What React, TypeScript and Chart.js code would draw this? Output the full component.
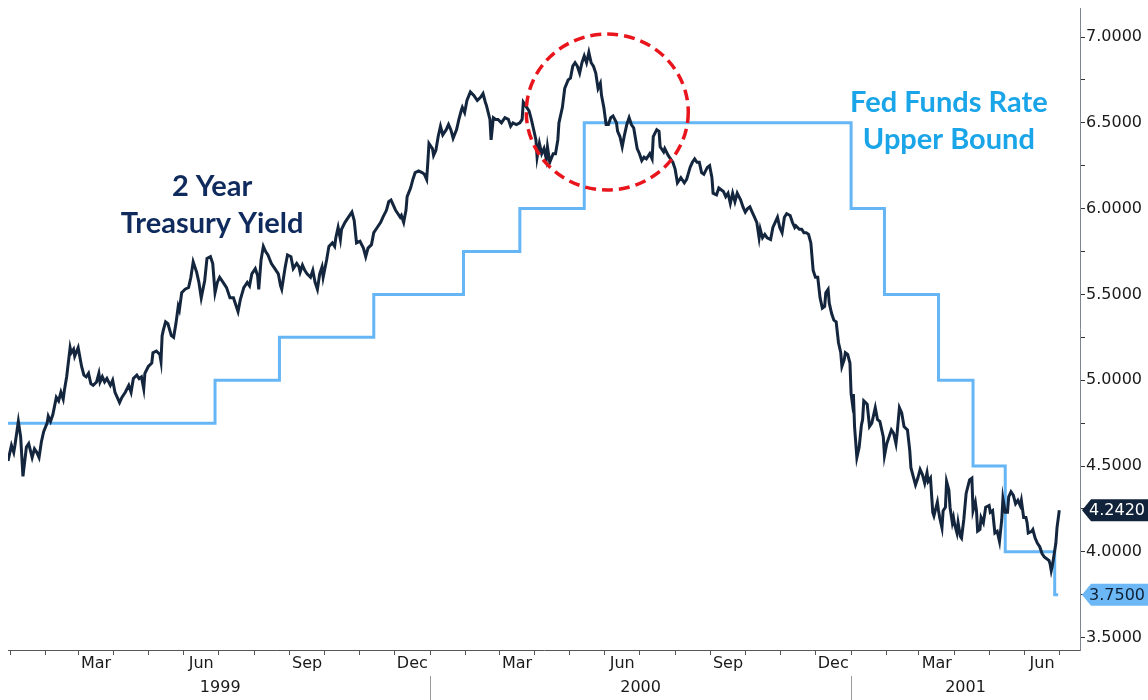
import React, { useEffect, useRef } from 'react';
import { Chart, registerables } from 'chart.js';

Chart.register(...registerables);

// Days counted from 1 Jan 1999 (day 0)
const yieldDays: number[] = [
  -2, 1, 3, 4, 7, 9, 11, 14, 16, 19,
  21, 23, 25, 27, 29, 32, 33, 35, 37, 40,
  42, 44, 46, 47, 49, 52, 53, 55, 56, 59,
  62, 64, 66, 68, 70, 72, 75, 77, 78, 80,
  82, 84, 87, 89, 91, 93, 95, 97, 100, 103,
  105, 107, 110, 112, 114, 116, 117, 120, 123, 124,
  127, 130, 131, 132, 133, 135, 137, 140, 142, 144,
  146, 147, 149, 152, 155, 157, 159, 162, 164, 166,
  169, 171, 174, 176, 178, 180, 182, 185, 188, 191,
  194, 196, 198, 200, 203, 206, 208, 210, 213, 215,
  216, 218, 220, 222, 224, 227, 230, 233, 235, 236,
  239, 241, 244, 246, 249, 251, 252, 254, 256, 258,
  261, 263, 265, 267, 269, 271, 272, 275, 277, 280,
  282, 283, 285, 287, 288, 291, 294, 297, 299, 301,
  304, 307, 309, 311, 314, 316, 319, 322, 324, 327,
  329, 331, 333, 335, 337, 339, 340, 342, 344, 345,
  348, 350, 352, 355, 358, 360, 362, 363, 364, 367,
  368, 370, 372, 374, 376, 379, 381, 383, 385, 388,
  390, 392, 393, 395, 397, 400, 403, 406, 409, 411,
  413, 414, 417, 418, 420, 422, 424, 427, 430, 433,
  435, 437, 440, 443, 445, 446, 448, 451, 453, 455,
  457, 458, 460, 462, 464, 466, 467, 469, 472, 474,
  476, 477, 480, 482, 485, 487, 489, 491, 493, 495,
  497, 499, 501, 503, 505, 507, 509, 511, 513, 514,
  516, 518, 520, 522, 524, 527, 528, 530, 532, 534,
  536, 538, 540, 542, 545, 547, 549, 551, 553, 556,
  558, 559, 562, 564, 565, 568, 569, 572, 574, 576,
  578, 580, 583, 586, 588, 591, 593, 595, 597, 599,
  601, 603, 606, 608, 610, 611, 614, 616, 618, 620,
  622, 624, 626, 628, 630, 632, 635, 637, 639, 641,
  643, 645, 647, 649, 651, 652, 654, 656, 658, 661,
  663, 665, 667, 669, 671, 673, 675, 678, 680, 682,
  683, 686, 688, 690, 692, 694, 696, 698, 700, 702,
  704, 706, 708, 709, 711, 712, 714, 716, 718, 720,
  722, 723, 725, 726, 728, 730, 731, 732, 733, 734,
  736, 738, 740, 741, 742, 745, 747, 749, 751, 752,
  754, 756, 759, 760, 762, 764, 766, 768, 770, 771,
  773, 775, 777, 780, 782, 783, 785, 787, 789, 791,
  793, 795, 797, 798, 800, 802, 803, 806, 807, 808,
  810, 811, 813, 814, 816, 817, 819, 820, 821, 823,
  824, 826, 827, 829, 831, 834, 836, 837, 839, 840,
  841, 843, 844, 846, 848, 851, 852, 854, 856, 858,
  860, 862, 863, 865, 867, 868, 870, 872, 874, 876,
  878, 879, 881, 883, 884, 885, 888, 889, 891, 893,
  895, 897, 899, 901, 903, 904, 905, 906, 909, 910,
  912,
];

const yieldValues: number[] = [
  4.53, 4.62, 4.58, 4.62, 4.76, 4.67, 4.44, 4.61, 4.63, 4.55,
  4.60, 4.58, 4.55, 4.64, 4.70, 4.75, 4.79, 4.76, 4.80, 4.90,
  4.88, 4.93, 4.89, 4.94, 5.02, 5.19, 5.16, 5.18, 5.14, 5.19,
  5.08, 5.03, 5.02, 5.04, 4.98, 4.97, 4.99, 5.04, 4.99, 5.02,
  4.99, 5.01, 4.97, 5.00, 4.93, 4.90, 4.87, 4.90, 4.93, 4.97,
  4.93, 5.01, 5.03, 5.01, 5.02, 4.95, 5.04, 5.08, 5.10, 5.16,
  5.17, 5.15, 5.11, 5.26, 5.29, 5.34, 5.33, 5.26, 5.25, 5.33,
  5.43, 5.41, 5.51, 5.53, 5.54, 5.60, 5.69, 5.63, 5.57, 5.48,
  5.58, 5.71, 5.72, 5.68, 5.51, 5.57, 5.60, 5.57, 5.54, 5.48,
  5.48, 5.44, 5.40, 5.47, 5.54, 5.57, 5.55, 5.62, 5.65, 5.61,
  5.53, 5.70, 5.78, 5.75, 5.73, 5.68, 5.65, 5.62, 5.55, 5.53,
  5.66, 5.73, 5.72, 5.65, 5.68, 5.66, 5.63, 5.67, 5.64, 5.62,
  5.60, 5.64, 5.57, 5.53, 5.62, 5.66, 5.60, 5.70, 5.78, 5.80,
  5.78, 5.83, 5.89, 5.82, 5.88, 5.92, 5.95, 5.98, 5.93, 5.80,
  5.81, 5.77, 5.72, 5.77, 5.79, 5.86, 5.89, 5.92, 5.95, 5.99,
  6.04, 6.05, 6.02, 5.99, 5.97, 5.95, 5.96, 5.92, 5.99, 6.07,
  6.12, 6.17, 6.21, 6.22, 6.21, 6.20, 6.17, 6.27, 6.38, 6.35,
  6.31, 6.34, 6.42, 6.48, 6.43, 6.46, 6.49, 6.46, 6.41, 6.46,
  6.52, 6.57, 6.59, 6.56, 6.63, 6.68, 6.66, 6.63, 6.65, 6.67,
  6.62, 6.60, 6.52, 6.40, 6.53, 6.52, 6.52, 6.50, 6.53, 6.52,
  6.48, 6.50, 6.49, 6.50, 6.52, 6.62, 6.60, 6.57, 6.52, 6.46,
  6.40, 6.30, 6.38, 6.32, 6.35, 6.29, 6.36, 6.27, 6.32, 6.32,
  6.40, 6.50, 6.59, 6.70, 6.75, 6.76, 6.83, 6.85, 6.83, 6.79,
  6.85, 6.89, 6.85, 6.91, 6.85, 6.83, 6.79, 6.70, 6.73, 6.66,
  6.59, 6.49, 6.49, 6.53, 6.54, 6.50, 6.45, 6.42, 6.36, 6.43,
  6.49, 6.53, 6.49, 6.47, 6.35, 6.32, 6.28, 6.30, 6.29, 6.32,
  6.29, 6.42, 6.46, 6.45, 6.36, 6.33, 6.35, 6.31, 6.29, 6.27,
  6.23, 6.15, 6.18, 6.15, 6.17, 6.24, 6.27, 6.29, 6.27, 6.27,
  6.21, 6.20, 6.24, 6.25, 6.18, 6.09, 6.08, 6.12, 6.11, 6.10,
  6.07, 6.09, 6.03, 6.09, 6.04, 6.09, 6.05, 6.01, 5.98, 6.00,
  6.01, 5.98, 5.95, 5.92, 5.83, 5.88, 5.83, 5.85, 5.83, 5.82,
  5.89, 5.92, 5.95, 5.89, 5.86, 5.95, 5.97, 5.96, 5.92, 5.89,
  5.90, 5.88, 5.88, 5.86, 5.86, 5.85, 5.80, 5.64, 5.60, 5.60,
  5.48, 5.42, 5.43, 5.51, 5.53, 5.45, 5.39, 5.35, 5.34, 5.22,
  5.16, 5.08, 5.12, 5.16, 5.15, 5.10, 4.92, 4.87, 4.92, 4.73,
  4.55, 4.61, 4.74, 4.77, 4.88, 4.86, 4.73, 4.75, 4.81, 4.84,
  4.77, 4.76, 4.67, 4.56, 4.63, 4.67, 4.71, 4.69, 4.63, 4.69,
  4.84, 4.81, 4.73, 4.71, 4.59, 4.49, 4.44, 4.39, 4.43, 4.48,
  4.45, 4.40, 4.46, 4.41, 4.43, 4.23, 4.21, 4.29, 4.24, 4.20,
  4.14, 4.24, 4.26, 4.41, 4.36, 4.26, 4.17, 4.20, 4.16, 4.11,
  4.17, 4.09, 4.08, 4.19, 4.34, 4.42, 4.43, 4.24, 4.29, 4.24,
  4.12, 4.13, 4.20, 4.17, 4.26, 4.27, 4.23, 4.24, 4.11, 4.12,
  4.06, 4.19, 4.31, 4.23, 4.23, 4.32, 4.35, 4.33, 4.28, 4.30,
  4.27, 4.30, 4.20, 4.20, 4.17, 4.11, 4.12, 4.13, 4.08, 4.05,
  4.03, 3.99, 3.97, 3.96, 3.95, 3.93, 3.89, 3.92, 4.05, 4.14,
  4.242,
];

const fedDays: number[] = [-2, 178, 234, 316, 394, 443, 499, 731, 760, 807, 837, 865, 908, 911];
const fedValues: number[] = [4.75, 5.0, 5.25, 5.5, 5.75, 6.0, 6.5, 6.0, 5.5, 5.0, 4.5, 4.0, 3.75, 3.75];

const yTickValues: number[] = [3.5, 3.75, 4.0, 4.25, 4.5, 4.75, 5.0, 5.25, 5.5, 5.75, 6.0, 6.25, 6.5, 6.75, 7.0];
const quarterLabels: string[] = ['Mar', 'Jun', 'Sep', 'Dec', 'Mar', 'Jun', 'Sep', 'Dec', 'Mar', 'Jun'];
const quarterMonths: string[] = ['1999-03', '1999-06', '1999-09', '1999-12', '2000-03', '2000-06', '2000-09', '2000-12', '2001-03', '2001-06'];
const yearLabels: string[] = ['1999', '2000', '2001'];
const treasuryText: string[] = ['2 Year', 'Treasury Yield'];
const fedText: string[] = ['Fed Funds Rate', 'Upper Bound'];

const X_MIN = -2;
const X_MAX = 930;
const Y_MIN = 3.428;
const Y_MAX = 7.169;

const START = Date.UTC(1999, 0, 1);
const dayOf = (y: number, m: number, d = 1) => Math.round((Date.UTC(y, m, d) - START) / 86400000);

const monthStarts: number[] = [];
for (let y = 1999; y <= 2001; y++) {
  for (let m = 0; m < 12; m++) {
    const d = dayOf(y, m, 1);
    if (d >= X_MIN && d <= X_MAX) monthStarts.push(d);
  }
}

const NAVY = '#14263d';
const BLUE = '#66b6f6';
const TICK_FONT = "'DejaVu Sans', sans-serif";
const NOTE_FONT = "Lato, 'Open Sans', sans-serif";

const overlayPlugin = {
  id: 'overlay',
  afterDatasetsDraw(chart: any) {
    const { ctx } = chart;
    const x = chart.scales.x;
    const y = chart.scales.y;
    // red dashed circle
    ctx.save();
    ctx.strokeStyle = '#e8161c';
    ctx.lineWidth = 3.5;
    ctx.setLineDash([11, 6]);
    ctx.beginPath();
    ctx.ellipse(x.getPixelForValue(519), y.getPixelForValue(6.563), 81, 78, 0, 0, Math.PI * 2);
    ctx.stroke();
    ctx.restore();

    // annotations
    ctx.save();
    ctx.textAlign = 'center';
    ctx.textBaseline = 'middle';
    ctx.font = `bold 29px ${NOTE_FONT}`;
    ctx.fillStyle = '#0f2a5c';
    const tx = x.getPixelForValue(175.5);
    const ty = y.getPixelForValue(6.018);
    treasuryText.forEach((t, i) => ctx.fillText(t, tx, ty + (i - 0.5) * 37));
    ctx.fillStyle = '#1aa5e8';
    const fx = x.getPixelForValue(816);
    const fy = y.getPixelForValue(6.508);
    fedText.forEach((t, i) => ctx.fillText(t, fx, fy + (i - 0.5) * 37));
    ctx.restore();
  },
  afterDraw(chart: any) {
    const { ctx, chartArea } = chart;
    const x = chart.scales.x;
    const y = chart.scales.y;
    const top = x.top;
    ctx.save();
    // month labels
    ctx.fillStyle = '#1a1a1a';
    ctx.font = `16px ${TICK_FONT}`;
    ctx.textAlign = 'center';
    ctx.textBaseline = 'middle';
    quarterLabels.forEach((lab, i) => {
      const [ys, ms] = quarterMonths[i].split('-');
      const yy = parseInt(ys, 10);
      const mm = parseInt(ms, 10) - 1;
      const a = dayOf(yy, mm, 1);
      const b = dayOf(yy, mm + 1, 1);
      ctx.fillText(lab, x.getPixelForValue((a + b) / 2), top + 14);
    });
    // year labels + separators
    yearLabels.forEach((lab) => {
      const yy = parseInt(lab, 10);
      const a = Math.max(dayOf(yy, 0, 1), X_MIN);
      const b = Math.min(dayOf(yy + 1, 0, 1), X_MAX);
      ctx.fillText(lab, x.getPixelForValue((a + b) / 2), top + 38);
      const s = dayOf(yy, 0, 1);
      if (s > X_MIN + 5) {
        const px = Math.round(x.getPixelForValue(s)) + 0.5;
        ctx.strokeStyle = '#9a9a9a';
        ctx.lineWidth = 1;
        ctx.beginPath();
        ctx.moveTo(px, top + 26);
        ctx.lineTo(px, chart.height);
        ctx.stroke();
      }
    });

    // last value tags
    const tag = (val: number, bg: string, fg: string) => {
      const yc = y.getPixelForValue(val);
      const tip = chartArea.right + 2;
      const h = 22;
      ctx.fillStyle = bg;
      ctx.beginPath();
      ctx.moveTo(tip, yc);
      ctx.lineTo(tip + 9, yc - h / 2);
      ctx.lineTo(chart.width, yc - h / 2);
      ctx.lineTo(chart.width, yc + h / 2);
      ctx.lineTo(tip + 9, yc + h / 2);
      ctx.closePath();
      ctx.fill();
      ctx.fillStyle = fg;
      ctx.font = `16px ${TICK_FONT}`;
      ctx.textAlign = 'left';
      ctx.textBaseline = 'middle';
      ctx.fillText(val.toFixed(4), tip + 7, yc + 1);
    };
    tag(fedValues[fedValues.length - 1], '#6cb8f6', '#0f1f33');
    tag(yieldValues[yieldValues.length - 1], '#10233b', '#ffffff');
    ctx.restore();
  },
};

export default function App() {
  const ref = useRef<HTMLCanvasElement | null>(null);
  useEffect(() => {
    document.documentElement.style.overflow = 'hidden';
    document.body.style.overflow = 'hidden';
    if (!ref.current) return;
    const chart = new Chart(ref.current, {
      type: 'line',
      data: {
        datasets: [
          {
            label: '2 Year Treasury Yield',
            data: yieldDays.map((d, i) => ({ x: d, y: yieldValues[i] })),
            borderColor: NAVY,
            borderWidth: 3,
            pointRadius: 0,
            tension: 0,
            fill: false,
          },
          {
            label: 'Fed Funds Rate Upper Bound',
            data: fedDays.map((d, i) => ({ x: d, y: fedValues[i] })),
            borderColor: BLUE,
            borderWidth: 3,
            pointRadius: 0,
            stepped: true,
            fill: false,
          },
        ],
      },
      options: {
        responsive: false,
        animation: false,
        devicePixelRatio: 1,
        events: [],
        layout: { padding: 0 },
        plugins: { legend: { display: false }, tooltip: { enabled: false } },
        scales: {
          x: {
            type: 'linear',
            min: X_MIN,
            max: X_MAX,
            afterBuildTicks: (s: any) => {
              s.ticks = monthStarts.map((v) => ({ value: v }));
            },
            afterFit: (s: any) => {
              s.height = 50;
              s.paddingLeft = 0;
              s.paddingRight = 0;
            },
            ticks: { callback: () => '', autoSkip: false, maxRotation: 0, font: { size: 1 } },
            grid: { drawOnChartArea: false, drawTicks: true, tickLength: 5, color: '#555' },
            border: { display: true, color: '#555', width: 1 },
          },
          y: {
            type: 'linear',
            position: 'right',
            min: Y_MIN,
            max: Y_MAX,
            afterBuildTicks: (s: any) => {
              s.ticks = yTickValues.map((v) => ({ value: v }));
            },
            afterFit: (s: any) => {
              s.width = 68;
              s.paddingTop = 0;
              s.paddingBottom = 0;
            },
            ticks: {
              autoSkip: false,
              padding: 1,
              color: '#1a1a1a',
              font: { family: TICK_FONT, size: 16 },
              callback: (v: any) => {
                const n = Number(v);
                return Math.abs(n * 2 - Math.round(n * 2)) < 1e-9 ? n.toFixed(4) : '';
              },
            },
            grid: { drawOnChartArea: false, drawTicks: true, tickLength: 5, color: '#333' },
            border: { display: true, color: '#7d8591', width: 1 },
          },
        },
      },
      plugins: [overlayPlugin],
    } as any);
    return () => chart.destroy();
  }, []);
  return (
    <div style={{ position: 'fixed', left: 8, top: 8, width: 1140, height: 692 }}>
      <canvas
        ref={ref}
        width={1140}
        height={692}
        style={{ display: 'block', width: 1140, height: 692 }}
      />
    </div>
  );
}
